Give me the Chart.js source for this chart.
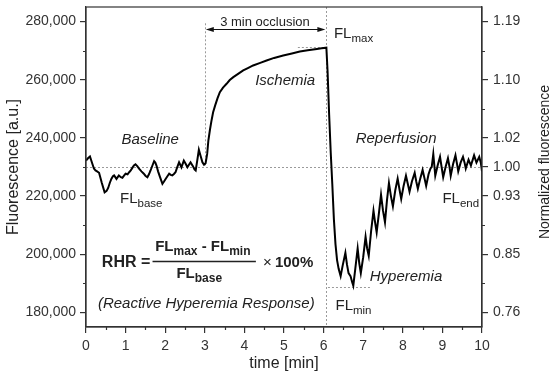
<!DOCTYPE html>
<html>
<head>
<meta charset="utf-8">
<script src="https://cdn.jsdelivr.net/npm/chart.js@4.4.1/dist/chart.umd.min.js"></script>
<style>
  html, body { margin: 0; padding: 0; background: #fff; }
  #wrap { width: 550px; height: 375px; }
</style>
</head>
<body>
<div id="wrap"><canvas id="rhrChart" width="550" height="375"></canvas></div>
<script>
// time axis (min) and raw fluorescence (a.u.)
const timeMin = [
  0.00, 0.05, 0.10, 0.16, 0.20, 0.24, 0.28, 0.33, 0.40, 0.47, 0.52, 0.56, 0.60, 0.64, 0.68, 0.71,
  0.77, 0.83, 0.88, 0.92, 0.96, 1.00, 1.05, 1.09, 1.13, 1.17, 1.21, 1.25, 1.30, 1.34, 1.40, 1.46,
  1.50, 1.55, 1.59, 1.63, 1.68, 1.72, 1.75, 1.78, 1.82, 1.87, 1.93, 1.97, 2.01, 2.06, 2.10, 2.14,
  2.18, 2.22, 2.26, 2.30, 2.35, 2.41, 2.47, 2.52, 2.56, 2.60, 2.64, 2.70, 2.74, 2.77, 2.81, 2.85,
  2.90, 2.94, 2.98, 3.02, 3.06, 3.09, 3.13, 3.17, 3.21, 3.26, 3.32, 3.38, 3.46, 3.55, 3.63, 3.72,
  3.85, 3.97, 4.10, 4.22, 4.40, 4.56, 4.75, 4.98, 5.20, 5.40, 5.60, 5.83, 5.95, 6.07, 6.10, 6.14,
  6.18, 6.22, 6.26, 6.30, 6.34, 6.38, 6.43, 6.48, 6.55, 6.59, 6.63, 6.68, 6.72, 6.75, 6.80, 6.86,
  6.90, 6.94, 7.00, 7.06, 7.10, 7.14, 7.20, 7.26, 7.30, 7.34, 7.40, 7.45, 7.50, 7.55, 7.60, 7.65,
  7.70, 7.75, 7.81, 7.87, 7.92, 7.96, 8.02, 8.08, 8.13, 8.17, 8.23, 8.30, 8.34, 8.38, 8.44, 8.50,
  8.55, 8.59, 8.65, 8.70, 8.73, 8.77, 8.80, 8.82, 8.88, 8.94, 8.98, 9.02, 9.08, 9.14, 9.18, 9.21,
  9.27, 9.33, 9.37, 9.40, 9.46, 9.52, 9.56, 9.59, 9.66, 9.72, 9.80, 9.86, 9.93, 9.97, 10.00
];
const fluorescence = [
  232200, 233000, 233600, 231100, 229500, 228800, 228500, 228000, 224500, 221300, 221800, 222800, 224500, 225900, 226800, 227100,
  225900, 227100, 226500, 226300, 227000, 227700, 227500, 228200, 228800, 229700, 230500, 230900, 230200, 229400, 228500, 227700,
  227000, 226500, 227500, 228800, 230600, 232000, 231500, 230500, 228500, 226500, 224200, 225000, 225900, 226900, 227700, 227300,
  227100, 227600, 228200, 229800, 231600, 229900, 232200, 231000, 229900, 230800, 231600, 230300, 229200, 228800, 232300, 235900,
  233500, 231600, 230800, 231300, 234500, 239100, 242800, 246000, 248800, 251100, 253600, 255700, 257300, 258600, 259900, 260900,
  262100, 263200, 264100, 264900, 265800, 266600, 267500, 268300, 269000, 269700, 270100, 270600, 270800, 271000, 263000, 248000,
  235000, 224000, 212000, 203500, 198000, 195000, 192500, 196000, 200500, 196500, 193500, 192500, 190500, 189200, 195000, 202000,
  197000, 193500, 199000, 206000, 202000, 199500, 208000, 215000, 211000, 207500, 214500, 220500, 215000, 211000, 218500, 224500,
  220000, 216500, 222000, 226000, 222000, 219000, 223500, 227000, 224000, 221500, 225000, 228000, 225000, 222500, 226000, 229000,
  226000, 223500, 227500, 229500, 230000, 234500, 230000, 227000, 230500, 233500, 230000, 226500, 230000, 233000, 230000, 227000,
  231000, 234000, 231000, 228500, 231500, 233500, 231500, 229500, 232500, 230500, 234000, 231500, 233500, 231500, 228500
];

const leftTicks = [180000, 200000, 220000, 240000, 260000, 280000];
const leftMinorTicks = [190000, 210000, 230000, 250000, 270000];
const rightTickValues = [180000, 200000, 220000, 230000, 240000, 260000, 280000];
const rightTickLabels = ["0.76", "0.85", "0.93", "1.00", "1.02", "1.10", "1.19"];
const rightMinorTicks = [190000, 210000, 250000, 270000];
const timeMinorTicks = [0.5, 1.5, 2.5, 3.5, 4.5, 5.5, 6.5, 7.5, 8.5, 9.5];

// reference levels
const flBaseLevel = 230000;
const flMaxLevel = 271200;
const flMinLevel = 188700;
const occlusionStart = 3.0;
const occlusionEnd = 6.07;

const FONT = '"Liberation Sans", Arial, sans-serif';
const INK = "#222";
const AXIS = "#333";

function font(size, style) {
  return (style || "") + " " + size + "px " + FONT;
}

// text with a subscript, returns the x where it ends
function subText(ctx, x, y, main, sub, size, subSize, weight, align) {
  ctx.font = font(size, weight);
  const w1 = ctx.measureText(main).width;
  ctx.font = font(subSize, weight);
  const w2 = ctx.measureText(sub).width;
  const x0 = align === "center" ? x - (w1 + w2) / 2 : x;
  ctx.textAlign = "left";
  ctx.font = font(size, weight);
  ctx.fillText(main, x0, y);
  ctx.font = font(subSize, weight);
  ctx.fillText(sub, x0 + w1, y + Math.round(size * 0.25));
  return x0 + w1 + w2;
}

// chart area is fixed by the axis sizes, drop the label overhang padding
function fixBox(s, size) {
  if (s.isHorizontal()) s.height = size; else s.width = size;
  s.paddingTop = 0;
  s.paddingBottom = 0;
  s.paddingLeft = 0;
  s.paddingRight = 0;
}

const notesPlugin = {
  id: "rhrNotes",
  beforeDatasetsDraw(chart) {
    const { ctx, chartArea: a, scales: { x, y } } = chart;
    const X = v => x.getPixelForValue(v);
    const Y = v => y.getPixelForValue(v);
    ctx.save();
    ctx.strokeStyle = "#9a9a9a";
    ctx.lineWidth = 1;
    ctx.setLineDash([2, 2]);
    const seg = (x1, y1, x2, y2) => {
      ctx.beginPath();
      ctx.moveTo(x1, y1);
      ctx.lineTo(x2, y2);
      ctx.stroke();
    };
    seg(a.left, Math.round(Y(flBaseLevel)) + 0.5, a.right, Math.round(Y(flBaseLevel)) + 0.5);
    seg(Math.round(X(occlusionStart)) + 0.5, Y(279400), Math.round(X(occlusionStart)) + 0.5, Y(flBaseLevel));
    seg(Math.round(X(occlusionEnd)) + 0.5, a.top, Math.round(X(occlusionEnd)) + 0.5, a.bottom);
    seg(X(5.35), Math.round(Y(flMaxLevel)) + 0.5, X(occlusionEnd), Math.round(Y(flMaxLevel)) + 0.5);
    seg(X(6.11), Math.round(Y(flMinLevel)) + 0.5, X(7.17), Math.round(Y(flMinLevel)) + 0.5);
    ctx.restore();
  },
  afterDraw(chart) {
    const { ctx, chartArea: a, scales: { x, y, y2 } } = chart;
    const X = v => x.getPixelForValue(v);
    const Y = v => y.getPixelForValue(v);
    ctx.save();

    // frame
    ctx.strokeStyle = AXIS;
    ctx.lineWidth = 1.2;
    ctx.strokeRect(a.left, a.top, a.right - a.left, a.bottom - a.top);

    // minor ticks
    ctx.beginPath();
    leftMinorTicks.forEach(v => {
      const p = Math.round(Y(v)) + 0.5;
      ctx.moveTo(a.left - 3, p); ctx.lineTo(a.left, p);
    });
    rightMinorTicks.forEach(v => {
      const p = Math.round(y2.getPixelForValue(v)) + 0.5;
      ctx.moveTo(a.right, p); ctx.lineTo(a.right + 3, p);
    });
    timeMinorTicks.forEach(v => {
      const p = Math.round(X(v)) + 0.5;
      ctx.moveTo(p, a.bottom); ctx.lineTo(p, a.bottom + 3);
    });
    ctx.stroke();

    // occlusion arrow
    const ay = Math.round(Y(277600)) + 0.5;
    const ax1 = X(occlusionStart) + 1, ax2 = X(occlusionEnd) - 1;
    ctx.strokeStyle = "#111";
    ctx.fillStyle = "#111";
    ctx.lineWidth = 1;
    ctx.beginPath();
    ctx.moveTo(ax1 + 4, ay); ctx.lineTo(ax2 - 4, ay);
    ctx.stroke();
    ctx.beginPath();
    ctx.moveTo(ax1, ay); ctx.lineTo(ax1 + 8, ay - 2.5); ctx.lineTo(ax1 + 8, ay + 2.5); ctx.closePath();
    ctx.moveTo(ax2, ay); ctx.lineTo(ax2 - 8, ay - 2.5); ctx.lineTo(ax2 - 8, ay + 2.5); ctx.closePath();
    ctx.fill();

    ctx.fillStyle = INK;
    ctx.textBaseline = "alphabetic";
    ctx.textAlign = "center";
    ctx.font = font(13);
    ctx.fillText("3 min occlusion", X(4.52), Y(278600));

    ctx.font = font(15, "italic");
    ctx.fillText("Baseline", X(1.62), Y(237800));
    ctx.fillText("Ischemia", X(5.03), Y(258100));
    ctx.fillText("Reperfusion", X(7.83), Y(238200));
    ctx.fillText("Hyperemia", X(8.08), Y(190800));
    ctx.textAlign = "left";
    ctx.fillText("(Reactive Hyperemia Response)", X(0.30), Y(181500));

    subText(ctx, X(0.86), Y(217600), "FL", "base", 15, 11.5, "", "left");
    subText(ctx, X(6.26), Y(274300), "FL", "max", 15, 11.5, "", "left");
    subText(ctx, X(9.0), Y(217600), "FL", "end", 15, 11.5, "", "left");
    subText(ctx, X(6.30), Y(180800), "FL", "min", 15, 11.5, "", "left");

    // RHR formula
    const fy = Y(195700);
    ctx.font = font(16, "bold");
    ctx.textAlign = "left";
    ctx.fillText("RHR =", X(0.40), fy);
    ctx.lineWidth = 1.3;
    ctx.strokeStyle = INK;
    const ly = Math.round(Y(197600)) + 0.5;
    ctx.beginPath();
    ctx.moveTo(X(1.68), ly); ctx.lineTo(X(4.29), ly);
    ctx.stroke();
    // numerator
    const ny = Y(201200);
    ctx.font = font(15, "bold");
    const wFL = ctx.measureText("FL").width;
    const wDash = ctx.measureText(" - ").width;
    ctx.font = font(12, "bold");
    const wMax = ctx.measureText("max").width;
    const wMin = ctx.measureText("min").width;
    let nx = X(2.95) - (2 * wFL + wDash + wMax + wMin) / 2;
    nx = subText(ctx, nx, ny, "FL", "max", 15, 12, "bold", "left");
    ctx.font = font(15, "bold");
    ctx.fillText(" - ", nx, ny);
    subText(ctx, nx + wDash, ny, "FL", "min", 15, 12, "bold", "left");
    // denominator
    subText(ctx, X(2.86), Y(191800), "FL", "base", 15, 12, "bold", "center");
    ctx.font = font(15);
    ctx.fillText("\u00d7", X(4.47), fy);
    ctx.font = font(15, "bold");
    ctx.fillText("100%", X(4.77), fy);

    // right axis title, reading bottom to top
    ctx.translate(545, (a.top + a.bottom) / 2 - 5);
    ctx.rotate(-Math.PI / 2);
    ctx.textAlign = "center";
    ctx.textBaseline = "middle";
    ctx.font = font(14);
    ctx.fillStyle = INK;
    ctx.fillText("Normalized fluorescence", 0, 0);
    ctx.restore();
  }
};

const tickFont = { family: FONT, size: 14 };

new Chart(document.getElementById("rhrChart"), {
  type: "line",
  data: {
    datasets: [{
      data: timeMin.map((t, i) => ({ x: t, y: fluorescence[i] })),
      borderColor: "#000",
      borderWidth: 2,
      pointRadius: 0,
      tension: 0,
      fill: false
    }]
  },
  options: {
    responsive: false,
    animation: false,
    layout: { padding: { top: 7, left: 0, right: 0, bottom: 0 } },
    plugins: { legend: { display: false }, tooltip: { enabled: false } },
    scales: {
      x: {
        type: "linear",
        min: 0,
        max: 10,
        afterFit: s => fixBox(s, 48),
        ticks: { stepSize: 1, font: tickFont, color: AXIS, padding: 5, maxRotation: 0 },
        grid: { drawOnChartArea: false, tickLength: 6, color: AXIS, lineWidth: 1.2 },
        border: { color: AXIS, width: 1.2 },
        title: { display: true, text: "time [min]", font: { family: FONT, size: 16 }, color: INK, padding: { top: 0, bottom: 1.5 } }
      },
      y: {
        position: "left",
        min: 175000,
        max: 285000,
        afterFit: s => fixBox(s, 86),
        afterBuildTicks: s => { s.ticks = leftTicks.map(v => ({ value: v })); },
        ticks: { font: tickFont, color: AXIS, padding: 4, callback: v => v.toLocaleString("en-US") },
        grid: { drawOnChartArea: false, tickLength: 6, color: AXIS, lineWidth: 1.2 },
        border: { color: AXIS, width: 1.2 },
        title: { display: true, text: "Fluorescence [a.u.]", font: { family: FONT, size: 16 }, color: INK, padding: { top: 3.5, bottom: 0 } }
      },
      y2: {
        position: "right",
        min: 175000,
        max: 285000,
        afterFit: s => fixBox(s, 68),
        afterBuildTicks: s => { s.ticks = rightTickValues.map(v => ({ value: v })); },
        ticks: { font: tickFont, color: AXIS, padding: 5, callback: v => rightTickLabels[rightTickValues.indexOf(v)] },
        grid: { drawOnChartArea: false, tickLength: 6, color: AXIS, lineWidth: 1.2 },
        border: { color: AXIS, width: 1.2 }
      }
    }
  },
  plugins: [notesPlugin]
});
</script>
</body>
</html>
